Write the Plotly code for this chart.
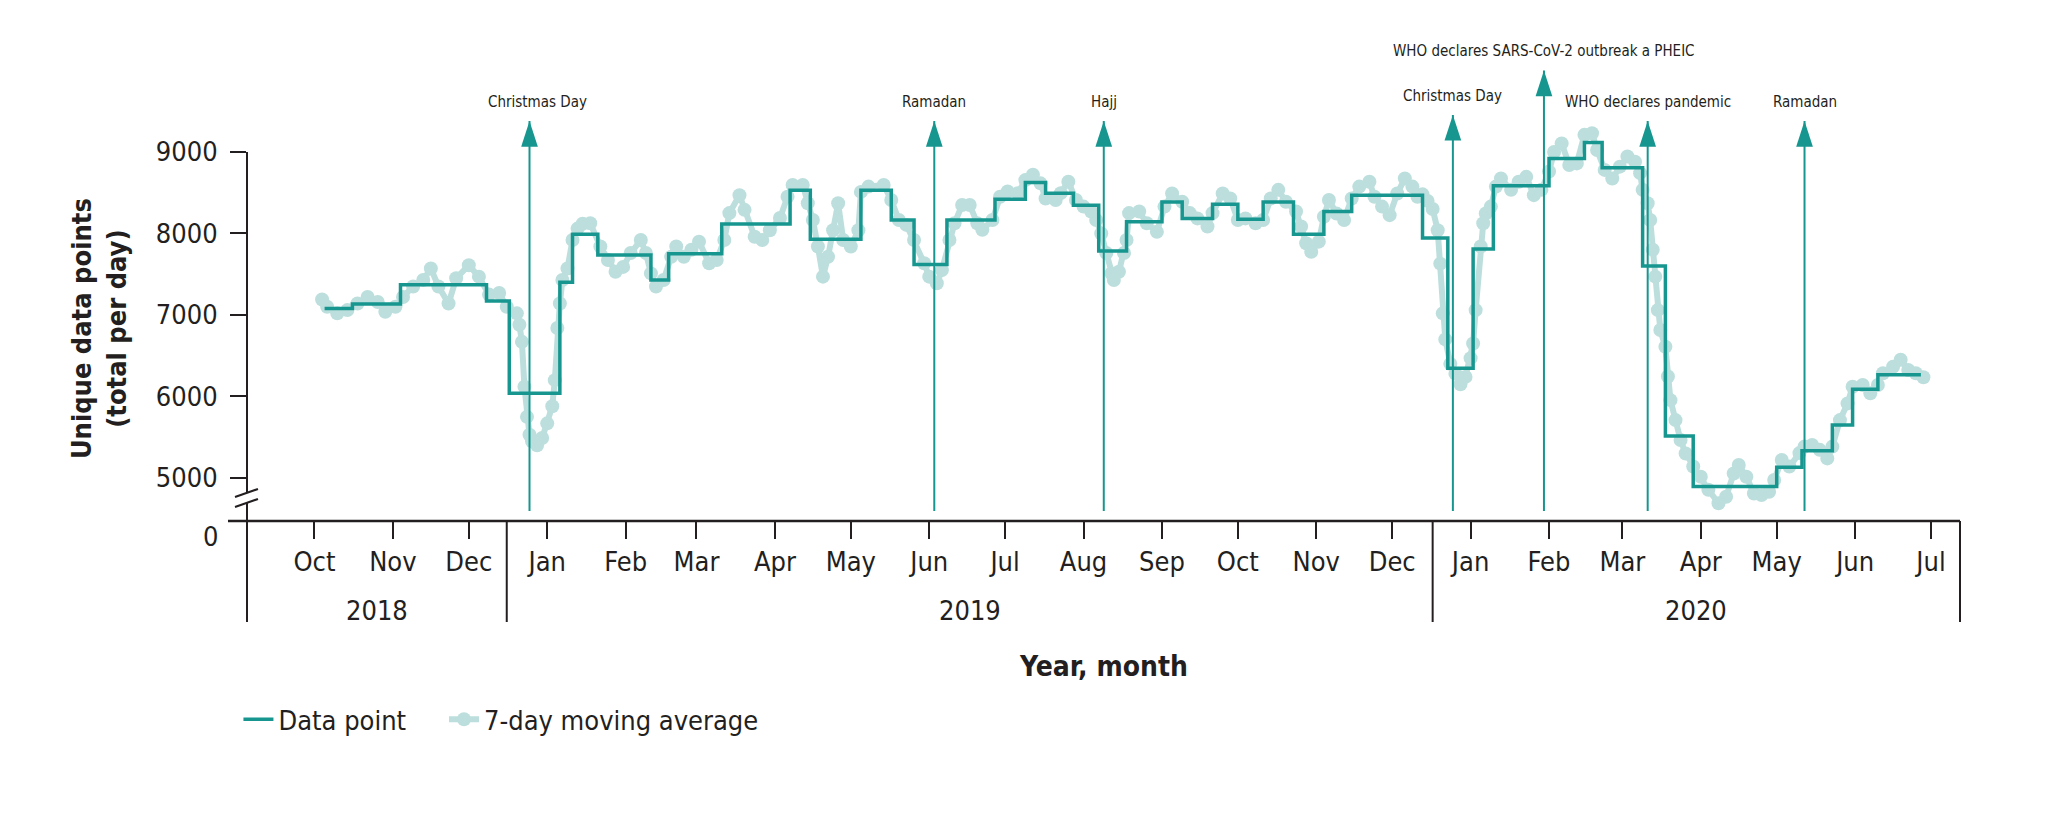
import pandas as pd
import plotly.graph_objects as go

# ---------------- data ----------------
START = pd.Timestamp("2018-10-01")  # day 0 for the day offsets below

# "Data point" series: day offset where each level begins, and its value
step_day = [4, 15, 34, 68, 77, 97, 102, 112, 133, 140,
            161, 188, 196, 216, 228, 237, 250, 269, 281, 289,
            300, 310, 321, 335, 343, 355, 365, 375, 387, 399,
            410, 438, 448, 458, 466, 488, 502, 509, 525, 534,
            545, 578, 588, 600, 608, 618, 635]
step_val = [7080, 7135, 7370, 7170, 6040, 7400, 7990, 7735, 7430, 7750,
            8115, 8530, 7930, 8530, 8165, 7620, 8165, 8420, 8625, 8495,
            8345, 7785, 8145, 8385, 8185, 8360, 8175, 8385, 7990, 8270,
            8470, 7945, 6345, 7810, 8585, 8920, 9115, 8805, 7600, 5515,
            4895, 5130, 5335, 5650, 6090, 6265, 6265]

# "7-day moving average" series
ma_day = [3, 5, 9, 13, 17, 21, 25, 28, 32, 35,
          39, 43, 46, 49, 53, 56, 61, 65, 69, 73,
          76, 80, 81, 82, 83, 84, 85, 86, 88, 90,
          92, 94, 95, 96, 97, 98, 100, 102, 104, 106,
          109,
          113, 116, 119, 122, 125, 129, 131, 133, 135, 138,
          141, 143, 146, 149, 152, 156, 159, 162, 164, 168,
          170, 174, 177, 180, 184, 187, 189, 193, 195, 197,
          199, 201, 203, 205, 207, 209, 212, 215, 216, 219,
          225, 228, 231, 234, 237, 241, 243, 246, 248, 251,
          253, 256, 259, 262, 264, 268, 271, 274, 278, 281,
          284, 287, 289, 293, 295, 298, 301, 304, 307, 309,
          311, 313, 315, 316, 318, 320, 321, 322, 326, 329,
          333, 336, 339, 343, 346, 349, 353, 355, 359, 362,
          365, 368, 372, 375, 378, 381, 384, 388, 390, 392,
          394, 397, 399, 401, 404, 407, 410, 413, 417, 419,
          422, 425, 428, 431, 434, 436, 438, 440, 442,
          444, 445, 446, 447, 449, 451, 453, 455, 457, 458,
          459, 461, 462, 463, 465, 467, 469, 473, 476, 479,
          482, 485, 488, 490, 493, 496, 499, 502, 505, 507,
          510, 513, 516, 519, 522, 524, 525, 527, 528, 529,
          530, 531, 532, 534, 535, 536, 538, 540, 542, 545,
          548, 551,
          555, 558, 561, 563, 566, 569, 572, 575, 577, 580,
          583, 587, 589, 592, 595, 598, 600, 603, 606, 608,
          612, 615, 618, 620, 624, 627, 630, 633, 636]
ma_val = [7190, 7100, 7020, 7060, 7140, 7220, 7160, 7040, 7100, 7220,
          7350, 7430, 7570, 7350, 7140, 7450, 7610, 7470, 7250, 7270,
          7100, 7020, 6880, 6670, 6120, 5750, 5530, 5450, 5400, 5490,
          5670, 5880, 6200, 6840, 7140, 7430, 7570, 7920, 8060, 8120,
          8125,
          7840, 7675, 7530, 7590, 7760, 7920, 7760, 7510, 7350, 7430,
          7715, 7840, 7715, 7800, 7900, 7635, 7675, 7920, 8250, 8470,
          8290, 7960, 7920, 8040, 8190, 8450, 8595, 8595, 8370, 8165,
          7840, 7470, 7715, 8040, 8370, 7920, 7840, 8040, 8510, 8575,
          8595, 8410, 8165, 8105, 7920, 7635, 7470, 7390, 7550, 7920,
          8125, 8350, 8350, 8125, 8045, 8165, 8450, 8515, 8495, 8655,
          8720, 8615, 8430, 8410, 8495, 8635, 8410, 8330, 8270, 8165,
          8000, 7760, 7510, 7430, 7530, 7760, 7920, 8250, 8270, 8125,
          8020, 8330, 8490, 8390, 8250, 8185, 8085, 8250, 8490, 8430,
          8165, 8185, 8125, 8165, 8430, 8535, 8390, 8270, 8085, 7880,
          7775, 7900, 8205, 8410, 8245, 8165, 8430, 8575, 8635, 8450,
          8330, 8225, 8490, 8675, 8575, 8450, 8480, 8400, 8300,
          8040, 7630, 7020, 6700, 6400, 6280, 6150, 6240, 6470, 6650,
          7060, 7840, 8125, 8245, 8330, 8575, 8675, 8535, 8635, 8695,
          8470, 8535, 8760, 9000, 9105, 8840, 8860, 9210, 9230, 9025,
          8780, 8675, 8820, 8945, 8880, 8740, 8535, 8370, 8165, 7800,
          7470, 7060, 6815, 6610, 6245, 5955, 5710, 5465, 5300, 5140,
          5015, 4855,
          4690, 4770, 5055, 5160, 5015, 4810, 4790, 4830, 4975, 5220,
          5140, 5305, 5385, 5405, 5345, 5240, 5385, 5710, 5915, 6120,
          6140, 6040, 6140, 6285, 6365, 6450, 6325, 6285, 6235]

# events marked with arrows
event_label = ["Christmas Day", "Ramadan", "Hajj", "Christmas Day",
               "WHO declares SARS-CoV-2 outbreak a PHEIC",
               "WHO declares pandemic", "Ramadan"]
event_date = ["2018-12-25", "2019-06-03", "2019-08-09", "2019-12-25",
              "2020-01-30", "2020-03-11", "2020-05-12"]

y_tick_vals = [5000, 6000, 7000, 8000, 9000]
year_label = ["2018", "2019", "2020"]
year_bound = ["2018-09-04 07:48", "2018-12-16 00:00", "2019-12-17 00:00", "2020-07-12 11:00"]

# ---------------- styling ----------------
TEAL = "#17968f"
LIGHT = "#bcdfdd"
INK = "#231f20"
FONT = "DejaVu Sans Condensed, Liberation Sans Narrow, sans-serif"
TICK_SIZE = 27

Y_BOTTOM, Y_TOP = 4472, 10374
ARROW_BASE = 4595
arrow_tip = [9380, 9380, 9380, 9455, 10000, 9380, 9380]
label_xshift = [8, 0, 0, 0, 0, 0, 0]

step_x = START + pd.to_timedelta(step_day, unit="D")
ma_x = START + pd.to_timedelta(ma_day, unit="D")

fig = go.Figure()
fig.add_trace(go.Scatter(
    x=ma_x, y=ma_val, mode="lines+markers", name="7-day moving average",
    line=dict(color=LIGHT, width=6), marker=dict(color=LIGHT, size=14),
    legend="legend2"))
fig.add_trace(go.Scatter(
    x=step_x, y=step_val, mode="lines", name="Data point",
    line=dict(color=TEAL, width=3.5, shape="hv"), legend="legend"))

lx, ly = [], []
for d, t in zip(event_date, arrow_tip):
    lx += [d, d, None]
    ly += [ARROW_BASE, t, None]
fig.add_trace(go.Scatter(x=lx, y=ly, mode="lines", line=dict(color=TEAL, width=2),
                         showlegend=False, hoverinfo="skip"))
fig.add_trace(go.Scatter(x=event_date, y=arrow_tip, mode="markers",
                         marker=dict(symbol="arrow", angle=0, size=27, color=TEAL,
                                     line=dict(width=0)),
                         showlegend=False, hoverinfo="skip"))

annotations = []
for lab, d, t, xs in zip(event_label, event_date, arrow_tip, label_xshift):
    annotations.append(dict(x=d, y=t, xref="x", yref="y", text=lab, showarrow=False,
                            yshift=19, xshift=xs, xanchor="center", yanchor="middle",
                            font=dict(size=15, color=INK, family=FONT)))

# year group labels
bounds = [pd.Timestamp(b) for b in year_bound]
for i, yl in enumerate(year_label):
    mid = bounds[i] + (bounds[i + 1] - bounds[i]) / 2
    annotations.append(dict(x=mid, y=-0.187, xref="x", yref="paper", text=yl,
                            showarrow=False, xanchor="center", yanchor="middle",
                            font=dict(size=TICK_SIZE, color=INK, family=FONT)))

annotations.append(dict(x=-0.0158, y=-0.033, xref="paper", yref="paper", text="0",
                        showarrow=False, xanchor="right", yanchor="middle",
                        font=dict(size=TICK_SIZE, color=INK, family=FONT)))
annotations.append(dict(x=0.5, y=-0.3015, xref="paper", yref="paper",
                        text="<b>Year, month</b>", showarrow=False,
                        xanchor="center", yanchor="middle",
                        font=dict(size=28, color=INK, family=FONT)))
annotations.append(dict(x=-0.0864, y=0.401, xref="paper", yref="paper",
                        text="<b>Unique data points</b><br><b>(total per day)</b>",
                        showarrow=False, textangle=-90,
                        xanchor="center", yanchor="middle",
                        font=dict(size=27, color=INK, family=FONT)))

axis_line = dict(color=INK, width=2.5)
thin = dict(color=INK, width=2)
shapes = [
    dict(type="line", xref="paper", yref="paper", x0=-0.0111, x1=1, y0=0, y1=0, line=axis_line),
    dict(type="line", xref="paper", yref="y", x0=0, x1=0, y0=9000, y1=4816, line=thin),
    dict(type="line", xref="paper", yref="y", x0=0, x1=0, y0=4693, y1=Y_BOTTOM, line=thin),
    dict(type="line", xref="paper", yref="y", x0=-0.0070, x1=0.0064, y0=4767, y1=4865, line=thin),
    dict(type="line", xref="paper", yref="y", x0=-0.0070, x1=0.0064, y0=4644, y1=4742, line=thin),
    dict(type="line", xref="paper", yref="paper", x0=0, x1=0, y0=0, y1=-0.21, line=thin),
    dict(type="line", xref="paper", yref="paper", x0=1, x1=1, y0=0, y1=-0.21, line=thin),
]
for b in year_bound[1:-1]:
    shapes.append(dict(type="line", xref="x", yref="paper", x0=b, x1=b, y0=0, y1=-0.21, line=thin))

legend_font = dict(size=27, family=FONT, color=INK)
fig.update_layout(
    width=2048, height=838,
    margin=dict(l=247, r=88, t=40, b=317),
    paper_bgcolor="white", plot_bgcolor="white",
    font=dict(family=FONT, color=INK, size=TICK_SIZE),
    showlegend=True,
    legend=dict(orientation="h", x=-0.005, xanchor="left", y=-0.413, yanchor="middle",
                font=legend_font, bgcolor="rgba(0,0,0,0)"),
    legend2=dict(orientation="h", x=0.115, xanchor="left", y=-0.413, yanchor="middle",
                 font=legend_font, bgcolor="rgba(0,0,0,0)"),
    xaxis=dict(type="date", range=[year_bound[0], year_bound[-1]],
               tick0="2018-10-01", dtick="M1", tickformat="%b",
               ticks="outside", ticklen=17, tickwidth=2, tickcolor=INK,
               showline=False, showgrid=False, zeroline=False,
               tickfont=dict(size=TICK_SIZE, family=FONT, color=INK)),
    yaxis=dict(range=[Y_BOTTOM, Y_TOP], tickvals=y_tick_vals,
               ticks="outside", ticklen=16, tickwidth=2, tickcolor=INK,
               showline=False, showgrid=False, zeroline=False,
               tickfont=dict(size=TICK_SIZE, family=FONT, color=INK), ticklabelstandoff=7),
    annotations=annotations,
    shapes=shapes,
)

# remove the browser's default page margin so the figure sits at the page origin
fig.write_html("out.html", config={"displayModeBar": False},
               post_script="document.body.style.margin='0';")
